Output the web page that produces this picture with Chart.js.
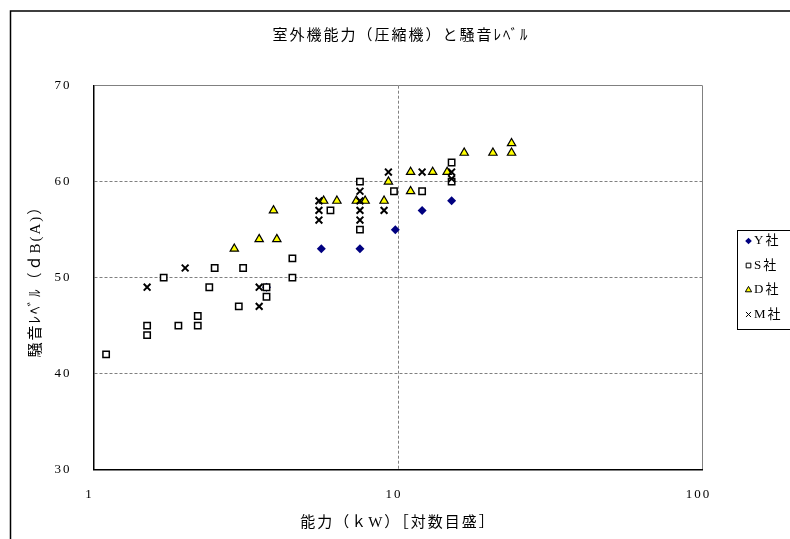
<!DOCTYPE html>
<html>
<head>
<meta charset="utf-8">
<script src="https://cdn.jsdelivr.net/npm/chart.js@4.4.0/dist/chart.umd.min.js"></script>
<style>
  html, body { margin: 0; padding: 0; background: #fff; }
  #wrap { width: 790px; height: 539px; position: relative; }
</style>
</head>
<body>
<div id="wrap"><canvas id="chart"></canvas></div>
<script>
// series names
const seriesNames = ['Y社', 'S社', 'D社', 'M社'];

// Y社
const yKW = [3.7, 5.6, 7.5, 9.8, 12, 15];
const yDB = [49, 53, 53, 55, 57, 58];

// S社
const sKW = [1.1, 1.5, 1.5, 1.7, 1.9, 2.2, 2.2, 2.4, 2.5, 3.0, 3.1, 3.7, 3.7, 4.5, 4.5, 6.0, 7.5, 7.5, 9.7, 12, 15, 15];
const sDB = [42, 45, 44, 50, 45, 46, 45, 49, 51, 47, 51, 49, 48, 52, 50, 57, 60, 55, 59, 59, 62, 60];

// D社
const dKW = [2.9, 3.5, 4.0, 3.9, 5.7, 6.3, 7.3, 7.8, 9.0, 9.3, 11, 11, 13, 14.5, 16.5, 20.5, 23.6, 23.6];
const dDB = [53, 54, 54, 57, 58, 58, 58, 58, 58, 60, 61, 59, 61, 61, 63, 63, 63, 64];

// M社
const mKW = [1.5, 2.0, 3.5, 3.5, 5.5, 5.5, 5.5, 7.5, 7.5, 7.5, 7.5, 9.0, 9.3, 12, 15, 15];
const mDB = [49, 51, 49, 47, 58, 57, 56, 59, 58, 57, 56, 57, 61, 61, 61, 60.3];

// axis ticks
const xTicks = [1, 10, 100];
const yTicks = [30, 40, 50, 60, 70];

const titleText = '室外機能力（圧縮機）と騒音ﾚﾍﾞﾙ';
const xTitle = '能力（ｋW）［対数目盛］';
const yTitle = '騒音ﾚﾍﾞﾙ（ｄB(A)）';

const FONT = "'Liberation Serif', 'Noto Sans CJK JP', serif";

function toPoints(xs, ys) {
  return xs.map((x, i) => ({ x: x, y: ys[i] }));
}

// chart frame + legend box (like the excel chart area)
const frameAndLegend = {
  id: 'frameAndLegend',
  beforeDraw(chart) {
    const ctx = chart.ctx;
    ctx.save();
    ctx.fillStyle = '#fff';
    ctx.fillRect(0, 0, chart.width, chart.height);
    ctx.restore();
    // mincho-ish wide spacing for all texts
    ctx.letterSpacing = '2px';
  },
  afterDraw(chart) {
    const ctx = chart.ctx;
    ctx.save();
    ctx.strokeStyle = '#000';
    ctx.lineWidth = 1.5;
    ctx.beginPath();
    ctx.moveTo(10.5, chart.height + 5);
    ctx.lineTo(10.5, 11);
    ctx.lineTo(chart.width + 5, 11);
    ctx.stroke();

    // legend
    ctx.lineWidth = 1;
    ctx.fillStyle = '#fff';
    ctx.fillRect(737.5, 230.5, 80, 99);
    ctx.strokeRect(737.5, 230.5, 80, 99);
    ctx.font = '13px ' + FONT;
    ctx.textBaseline = 'middle';
    ctx.textAlign = 'left';
    chart.data.datasets.forEach((ds, i) => {
      const yy = 241 + i * 24.5;
      ctx.fillStyle = ds.backgroundColor;
      ctx.strokeStyle = ds.borderColor;
      Chart.helpers.drawPoint(ctx, {
        pointStyle: ds.pointStyle,
        radius: ds.legendRadius,
        rotation: 0,
        borderWidth: ds.borderWidth
      }, 748.5, yy);
      ctx.fillStyle = '#000';
      ctx.fillText(ds.label, 754, yy);
    });
    ctx.restore();
    ctx.letterSpacing = '0px';
  }
};

const edgeDash = (edges) => (c) => {
  if (c.tick && edges.indexOf(c.tick.value) < 0) return [3, 2];
  return [];
};

new Chart(document.getElementById('chart'), {
  type: 'scatter',
  data: {
    datasets: [
      {
        label: seriesNames[0], data: toPoints(yKW, yDB), order: 3,
        pointStyle: 'rectRot', pointRadius: 4.5, legendRadius: 3.3,
        backgroundColor: '#000080', borderColor: '#000080', borderWidth: 0
      },
      {
        label: seriesNames[1], data: toPoints(sKW, sDB), order: 2,
        pointStyle: 'rect', pointRadius: 4.5, legendRadius: 3.3,
        backgroundColor: '#ffffff', borderColor: '#000000', borderWidth: 1.5
      },
      {
        label: seriesNames[2], data: toPoints(dKW, dDB), order: 1,
        pointStyle: 'triangle', pointRadius: 4.8, legendRadius: 3.6,
        backgroundColor: '#ffff00', borderColor: '#000000', borderWidth: 1.2
      },
      {
        label: seriesNames[3], data: toPoints(mKW, mDB), order: 0,
        pointStyle: 'crossRot', pointRadius: 4.8, legendRadius: 3.6,
        backgroundColor: '#000000', borderColor: '#000000', borderWidth: 2
      }
    ]
  },
  options: {
    responsive: true,
    maintainAspectRatio: false,
    animation: false,
    layout: { padding: { left: 12, right: 0, top: 0, bottom: 0 } },
    plugins: {
      legend: { display: false },
      tooltip: { enabled: false },
      title: {
        display: true,
        text: titleText,
        color: '#000',
        font: { family: FONT, size: 15, weight: 'normal' },
        padding: { top: 27, bottom: 40.7 }
      }
    },
    scales: {
      x: {
        type: 'logarithmic',
        min: 1,
        max: 100,
        afterBuildTicks: (scale) => { scale.ticks = xTicks.map(v => ({ value: v })); },
        afterFit: (scale) => { scale.height = 69.5; },
        ticks: {
          color: '#000',
          padding: 17,
          labelOffset: -4,
          autoSkip: false,
          maxRotation: 0,
          font: { family: FONT, size: 13 },
          callback: (v) => String(v)
        },
        grid: { color: '#808080', lineWidth: 1, drawTicks: false },
        border: { color: '#000', width: 1.5, dash: edgeDash([1, 100]) },
        title: {
          display: true, text: xTitle, color: '#000',
          font: { family: FONT, size: 15 },
          padding: { top: 4, bottom: 7 }
        }
      },
      y: {
        min: 30,
        max: 70,
        afterBuildTicks: (scale) => { scale.ticks = yTicks.map(v => ({ value: v })); },
        afterFit: (scale) => { scale.width = 81.5; },
        ticks: {
          color: '#000',
          padding: 22,
          font: { family: FONT, size: 13 }
        },
        grid: { color: '#808080', lineWidth: 1, drawTicks: false },
        border: { color: '#000', width: 1.5, dash: edgeDash([30, 70]) },
        title: {
          display: true, text: yTitle, color: '#000',
          font: { family: FONT, size: 15 },
          padding: { top: 15, bottom: 0 }
        }
      },
      // empty right margin that holds the legend
      yRight: {
        position: 'right',
        min: 30,
        max: 70,
        afterFit: (scale) => { scale.width = 87.5; },
        ticks: { display: false },
        grid: { drawOnChartArea: false, drawTicks: false },
        border: { display: false }
      }
    }
  },
  plugins: [frameAndLegend]
});
</script>
</body>
</html>
